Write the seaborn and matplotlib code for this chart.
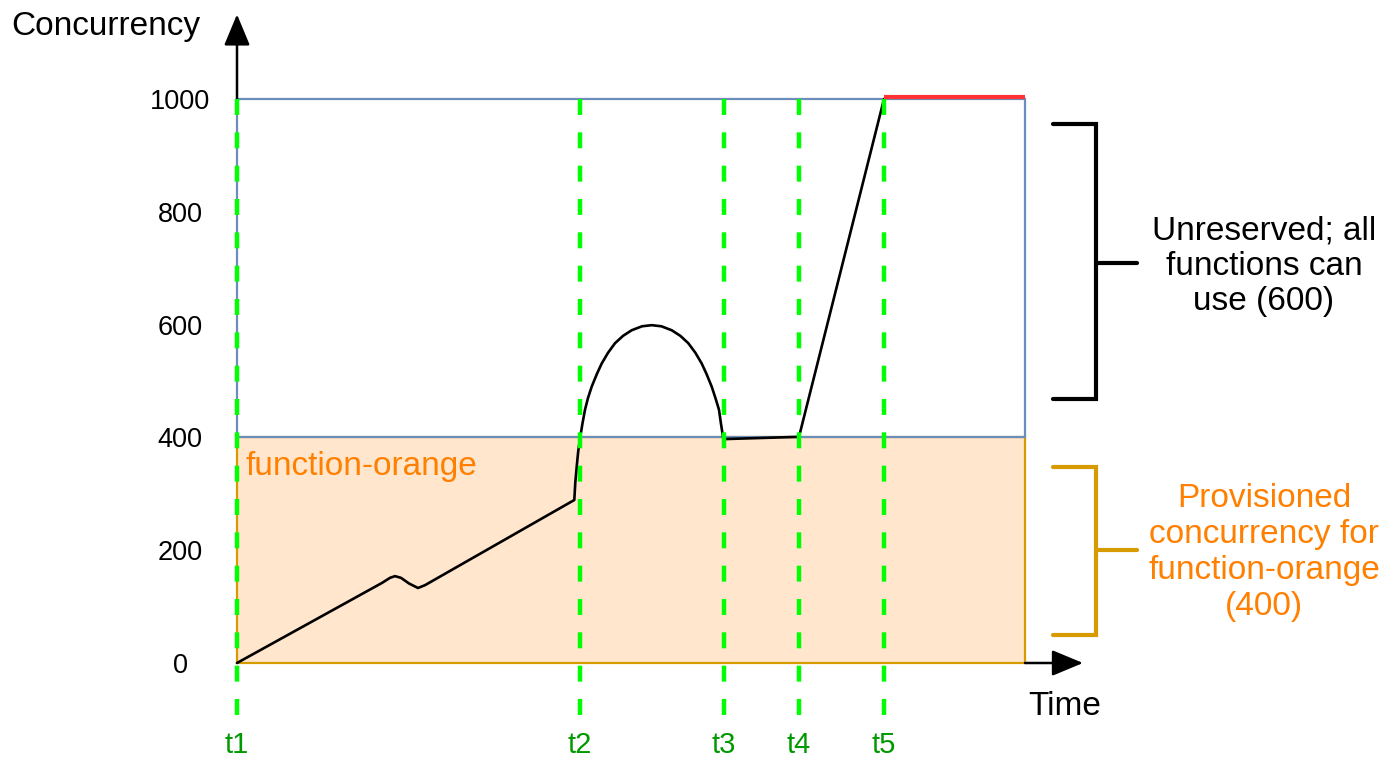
import matplotlib
matplotlib.use("Agg")
import matplotlib.pyplot as plt
from matplotlib.patches import Rectangle
import seaborn as sns

# ---- data ----
event_labels = ["t1", "t2", "t3", "t4", "t5"]
event_times = [0.0, 3.43, 4.87, 5.62, 6.47]
time_end = 7.88

curve_time = [0.0, 1.45, 1.53, 1.58, 1.64, 1.72, 1.81, 1.88, 3.373, 3.383, 3.397,
              3.412, 3.43, 3.455, 3.48, 3.51, 3.547, 3.6, 3.647, 3.71, 3.78,
              3.86, 3.947, 4.05, 4.147, 4.244, 4.347, 4.434, 4.513, 4.584, 4.647,
              4.694, 4.747, 4.784, 4.82, 4.839, 4.863, 4.87, 5.62, 6.47]
curve_conc = [0, 142, 151, 154, 151, 141, 133, 138, 289, 320, 348,
              375, 398, 425, 449, 470, 490, 513, 531, 550, 567,
              580, 590, 597, 599, 597, 590, 580, 567, 550, 531,
              513, 490, 470, 449, 425, 398, 397, 401, 1000]

provisioned = 400
account_limit = 1000
y_ticks = [0, 200, 400, 600, 800, 1000]

sns.set_style("white")
plt.rcParams["font.family"] = ["Liberation Sans", "DejaVu Sans"]
plt.rcParams["text.color"] = "black"
plt.rcParams["ytick.color"] = "black"
plt.rcParams["ytick.labelcolor"] = "black"

fig = plt.figure(figsize=(13.96, 7.62), dpi=100)
ax = fig.add_axes([237 / 1396, 99 / 762, 788 / 1396, 564 / 762])
ax.set_xlim(0, time_end)
ax.set_ylim(0, account_limit)
for s in ax.spines.values():
    s.set_visible(False)

# boxes
ax.add_patch(Rectangle((0, 0), time_end, provisioned, facecolor="#FFE6CC",
                       edgecolor="#D79B00", lw=1.6, zorder=1, clip_on=False))
ax.add_patch(Rectangle((0, provisioned), time_end, account_limit - provisioned,
                       facecolor="none", edgecolor="#6C8EBF", lw=1.6, zorder=2,
                       clip_on=False))

# concurrency curve
sns.lineplot(x=curve_time, y=curve_conc, sort=False, estimator=None, color="black",
             lw=1.9, ax=ax, zorder=3)
for ln in ax.lines:
    ln.set_solid_joinstyle("round")
    ln.set_clip_on(False)

# throttle line at limit
ax.plot([event_times[4], time_end], [account_limit + 4, account_limit + 4],
        color="#FF3333", lw=3.0, zorder=6, solid_capstyle="butt", clip_on=False)

# green dashed event lines
for t in event_times:
    ax.plot([t, t], [account_limit, -105], color="#00FF00", lw=3.2,
            linestyle=(0, (11.5 / 3.2, 12.5 / 3.2)), zorder=5, clip_on=False)

# axis arrows
ax.annotate("", xy=(0, 1150), xytext=(0, account_limit),
            arrowprops=dict(arrowstyle="-|>,head_length=1.2,head_width=0.5",
                            mutation_scale=16, lw=1.8, color="black",
                            shrinkA=0, shrinkB=0), annotation_clip=False)
ax.annotate("", xy=(8.46, 0), xytext=(time_end, 0),
            arrowprops=dict(arrowstyle="-|>,head_length=1.2,head_width=0.5",
                            mutation_scale=16, lw=1.8, color="black",
                            shrinkA=0, shrinkB=0), annotation_clip=False)

# ticks
ax.set_yticks(y_ticks)
ax.set_yticklabels([str(v) for v in y_ticks], fontsize=19.5, ha="center",
                   color="black")
ax.tick_params(axis="y", length=0, pad=41)
ax.set_xticks(event_times)
ax.set_xticklabels(event_labels, fontsize=21, color="#009900", va="center")
ax.tick_params(axis="x", length=0, pad=59)
ax.grid(False)

# axis titles
ax.text(-1.31, 1128, "Concurrency", fontsize=24, ha="center", va="center",
        clip_on=False)
ax.text(8.28, -78, "Time", fontsize=24, ha="center", va="center", clip_on=False)

# in-box label
ax.text(0.09, 349, "function-orange", fontsize=24, color="#FF8000", ha="left",
        va="center")

# brackets
ax.plot([8.16, 8.59, 8.59, 8.16], [956, 956, 468, 468], color="black", lw=3.0,
        solid_joinstyle="miter", clip_on=False)
ax.plot([8.59, 9.00], [710, 710], color="black", lw=3.0, clip_on=False)
ax.plot([8.16, 8.59, 8.59, 8.16], [347, 347, 49, 49], color="#D79B00", lw=3.0,
        solid_joinstyle="miter", clip_on=False)
ax.plot([8.59, 9.00], [200, 200], color="#D79B00", lw=3.0, clip_on=False)

ax.text(10.27, 703, "Unreserved; all\nfunctions can\nuse (600)", fontsize=24,
        ha="center", va="center", linespacing=1.18, clip_on=False)
ax.text(10.27, 196, "Provisioned\nconcurrency for\nfunction-orange\n(400)",
        fontsize=24, color="#FF8000", ha="center", va="center", linespacing=1.22,
        clip_on=False)

ax.set_xlabel("")
ax.set_ylabel("")
fig.savefig("out.png", dpi=100)
